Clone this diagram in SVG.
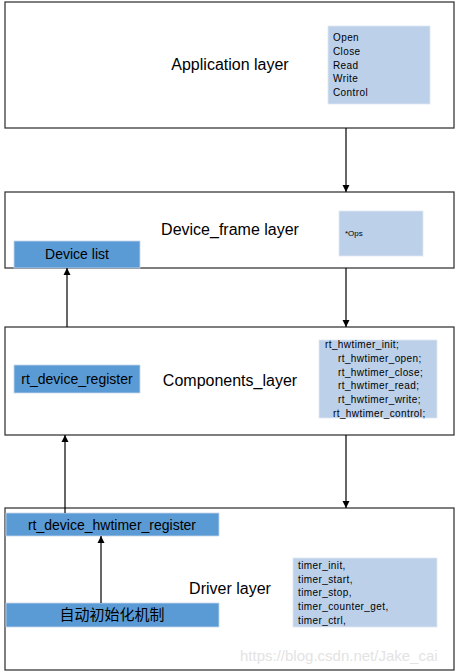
<svg xmlns="http://www.w3.org/2000/svg" width="456" height="672" viewBox="0 0 456 672">
<style>
.layer{fill:#fff;stroke:#3a3a3a;stroke-width:1.3}
.dark{fill:#5b9bd5;stroke:#c8d6e8;stroke-width:0.8}
.light{fill:#bcd0ea;stroke:#dfe6ef;stroke-width:0.8}
.title{font-family:"Liberation Sans",Arial,sans-serif;font-size:16px;fill:#000;text-anchor:middle}
.lbl{font-family:"Liberation Sans",Arial,sans-serif;font-size:14px;fill:#000;text-anchor:middle}
.sm{font-family:"Liberation Sans",Arial,sans-serif;font-size:10px;letter-spacing:0.4px;fill:#000}
.cn{font-family:"Noto Sans CJK SC",sans-serif;font-size:15px;fill:#000;text-anchor:middle}
.wm{font-family:"Liberation Sans",Arial,sans-serif;font-size:15px;fill:#e3e3e3}
.conn{stroke:#000;stroke-width:1.2;fill:none;marker-end:url(#ah)}
</style>
<defs>
<marker id="ah" viewBox="0 0 10 10" refX="10" refY="5" markerWidth="7" markerHeight="9" markerUnits="userSpaceOnUse" orient="auto">
<path d="M0,0 L10,5 L0,10 z" fill="#000"/>
</marker>
</defs>
<rect width="456" height="672" fill="#fff"/>
<g id="app-layer">
<rect class="layer" x="5" y="2" width="449" height="126"/>
<text class="title" x="230" y="70">Application layer</text>
<rect class="light" x="328" y="26" width="102" height="78"/>
<text class="sm" x="333" y="41">Open</text>
<text class="sm" x="333" y="55">Close</text>
<text class="sm" x="333" y="69">Read</text>
<text class="sm" x="333" y="82">Write</text>
<text class="sm" x="333" y="96">Control</text>
</g>
<g id="frame-layer">
<rect class="layer" x="5" y="192" width="449" height="76"/>
<text class="title" x="230" y="235">Device_frame layer</text>
<rect class="light" x="339" y="211" width="84" height="45"/>
<text class="sm" x="345" y="236" style="font-size:8px;letter-spacing:0">*Ops</text>
</g>
<g id="device-list">
<rect class="dark" x="14" y="241" width="126" height="27"/>
<text class="lbl" x="77" y="259">Device list</text>
</g>
<g id="components-layer">
<rect class="layer" x="5" y="327" width="449" height="108"/>
<text class="title" x="230" y="386">Components_layer</text>
<rect class="light" x="319" y="340" width="118" height="78"/>
<text class="sm" x="325" y="348">rt_hwtimer_init;</text>
<text class="sm" x="338" y="362">rt_hwtimer_open;</text>
<text class="sm" x="338" y="376">rt_hwtimer_close;</text>
<text class="sm" x="338" y="389">rt_hwtimer_read;</text>
<text class="sm" x="338" y="403">rt_hwtimer_write;</text>
<text class="sm" x="333" y="417">rt_hwtimer_control;</text>
</g>
<g id="rt-device-register">
<rect class="dark" x="14" y="365" width="126" height="28"/>
<text class="lbl" x="77" y="384">rt_device_register</text>
</g>
<g id="driver-layer">
<rect class="layer" x="5" y="508" width="449" height="162"/>
<text class="title" x="230" y="594">Driver layer</text>
<rect class="light" x="293" y="558" width="144" height="69"/>
<text class="sm" x="298" y="569">timer_init,</text>
<text class="sm" x="298" y="583">timer_start,</text>
<text class="sm" x="298" y="596">timer_stop,</text>
<text class="sm" x="298" y="610">timer_counter_get,</text>
<text class="sm" x="298" y="624">timer_ctrl,</text>
<text class="wm" x="240" y="661">https://blog.csdn.net/Jake_cai</text>
</g>
<g id="hwtimer-register">
<rect class="dark" x="6" y="513" width="213" height="23"/>
<text class="lbl" x="112" y="530">rt_device_hwtimer_register</text>
</g>
<g id="auto-init">
<rect class="dark" x="6" y="603" width="213" height="24"/>
<text class="cn" x="112" y="620">自动初始化机制</text>
</g>
<g id="connectors">
<line class="conn" x1="346" y1="128" x2="346" y2="192"/>
<line class="conn" x1="346" y1="268" x2="346" y2="327"/>
<line class="conn" x1="346" y1="435" x2="346" y2="508"/>
<line class="conn" x1="67" y1="327" x2="67" y2="268"/>
<line class="conn" x1="65" y1="513" x2="65" y2="435"/>
<line class="conn" x1="101" y1="603" x2="101" y2="536"/>
</g>
</svg>
